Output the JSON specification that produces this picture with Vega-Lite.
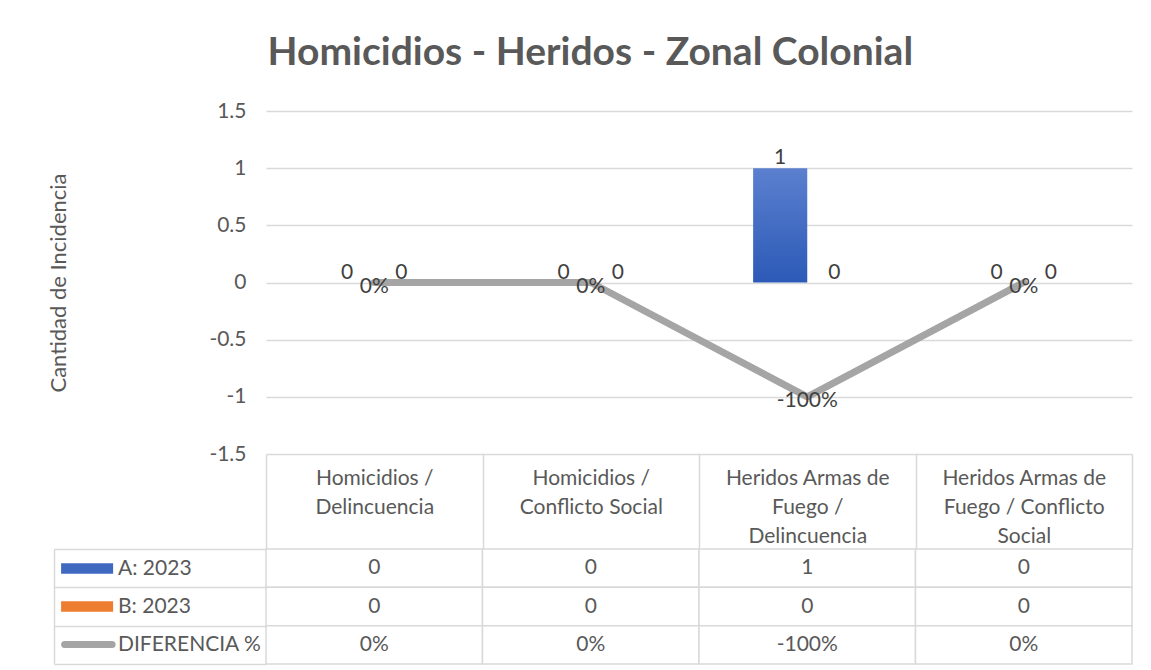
{
  "$schema": "https://vega.github.io/schema/vega-lite/v6.json",
  "padding": {"left": 47, "top": 34, "right": 5, "bottom": 5},
  "background": "white",
  "config": {
    "view": {"stroke": null},
    "font": "Lato",
    "text": {"font": "Lato"}
  },
  "spacing": 95,
  "bounds": "flush",
  "vconcat": [
    {
      "width": 866,
      "height": 343,
      "title": {
        "text": "Homicidios - Heridos - Zonal Colonial",
        "font": "Lato",
        "fontSize": 39,
        "fontWeight": "bold",
        "color": "#595959",
        "anchor": "middle",
        "frame": "bounds",
        "offset": 27
      },
      "layer": [
        {
          "data": {
            "values": [
              {"cat": "Homicidios / Delincuencia", "series": "A: 2023", "value": 0},
              {"cat": "Homicidios / Delincuencia", "series": "B: 2023", "value": 0},
              {"cat": "Homicidios / Conflicto Social", "series": "A: 2023", "value": 0},
              {"cat": "Homicidios / Conflicto Social", "series": "B: 2023", "value": 0},
              {"cat": "Heridos Armas de Fuego / Delincuencia", "series": "A: 2023", "value": 1},
              {"cat": "Heridos Armas de Fuego / Delincuencia", "series": "B: 2023", "value": 0},
              {"cat": "Heridos Armas de Fuego / Conflicto Social", "series": "A: 2023", "value": 0},
              {"cat": "Heridos Armas de Fuego / Conflicto Social", "series": "B: 2023", "value": 0}
            ]
          },
          "layer": [
            {
              "mark": {"type": "bar"},
              "encoding": {
                "x": {
                  "field": "cat", "type": "nominal", "sort": null,
                  "scale": {"paddingInner": 0, "paddingOuter": 0},
                  "axis": {
                    "title": null,
                    "domain": false,
                    "ticks": true,
                    "tickBand": "extent",
                    "tickSize": 95,
                    "tickColor": "#d9d9d9",
                    "tickWidth": 1.5,
                    "labelAngle": 0,
                    "labelFont": "Lato",
                    "labelFontSize": 21,
                    "labelColor": "#595959",
                    "labelBaseline": "middle",
                    "labelPadding": -71,
                    "labelLineHeight": 29,
                    "labelExpr": "datum.value == 'Homicidios / Delincuencia' ? ['Homicidios /', 'Delincuencia'] : datum.value == 'Homicidios / Conflicto Social' ? ['Homicidios /', 'Conflicto Social'] : datum.value == 'Heridos Armas de Fuego / Delincuencia' ? ['Heridos Armas de', 'Fuego /', 'Delincuencia'] : datum.value == 'Heridos Armas de Fuego / Conflicto Social' ? ['Heridos Armas de', 'Fuego / Conflicto', 'Social'] : ''"
                  }
                },
                "xOffset": {
                  "field": "series", "type": "nominal",
                  "scale": {"paddingInner": 0, "paddingOuter": 1.08}
                },
                "y": {
                  "field": "value", "type": "quantitative",
                  "scale": {"domain": [-1.5, 1.5], "nice": false, "zero": false},
                  "axis": {
                    "values": [-1.5, -1, -0.5, 0, 0.5, 1, 1.5],
                    "labelExpr": "toString(datum.value)",
                    "grid": true,
                    "gridColor": "#d9d9d9",
                    "gridWidth": 1.5,
                    "domain": false,
                    "ticks": false,
                    "labelPadding": 20,
                    "labelFont": "Lato",
                    "labelFontSize": 21,
                    "labelColor": "#595959",
                    "title": "Cantidad de Incidencia",
                    "titleFont": "Lato",
                    "titleFontSize": 22,
                    "titleFontWeight": "normal",
                    "titleColor": "#595959",
                    "titlePadding": 138
                  }
                },
                "fill": {
                  "condition": {
                    "test": "datum.series === 'A: 2023'",
                    "value": {"gradient": "linear", "x1": 0, "y1": 0, "x2": 0, "y2": 1, "stops": [{"offset": 0, "color": "#5b80cf"}, {"offset": 1, "color": "#2c5ab7"}]}
                  },
                  "value": {"gradient": "linear", "x1": 0, "y1": 0, "x2": 0, "y2": 1, "stops": [{"offset": 0, "color": "#f39252"}, {"offset": 1, "color": "#e36d1e"}]}
                }
              }
            },
            {
              "mark": {"type": "text", "fontSize": 21, "color": "#404040", "baseline": "alphabetic", "dy": -4, "font": "Lato"},
              "encoding": {
                "x": {"field": "cat", "type": "nominal", "sort": null},
                "xOffset": {"field": "series", "type": "nominal"},
                "y": {"field": "value", "type": "quantitative"},
                "text": {"field": "value", "type": "quantitative"}
              }
            }
          ]
        },
        {
          "data": {
            "values": [
              {"cat": "Homicidios / Delincuencia", "dif": 0, "label": "0%"},
              {"cat": "Homicidios / Conflicto Social", "dif": 0, "label": "0%"},
              {"cat": "Heridos Armas de Fuego / Delincuencia", "dif": -1, "label": "-100%"},
              {"cat": "Heridos Armas de Fuego / Conflicto Social", "dif": 0, "label": "0%"}
            ]
          },
          "layer": [
            {
              "mark": {"type": "line", "strokeWidth": 7, "strokeCap": "round", "strokeJoin": "round"},
              "encoding": {
                "x": {"field": "cat", "type": "nominal", "sort": null},
                "y": {"field": "dif", "type": "quantitative"},
                "color": {
                  "datum": "DIFERENCIA %",
                  "scale": {
                    "domain": ["A: 2023", "B: 2023", "DIFERENCIA %"],
                    "range": ["#3f69c1", "#ed7d31", "#a5a5a5"]
                  },
                  "legend": {
                    "orient": "none",
                    "legendX": -205,
                    "legendY": 438.5,
                    "padding": 0,
                    "title": null,
                    "direction": "vertical",
                    "symbolType": "M-1,-0.5H4V0.5H-1Z",
                    "symbolSize": 433,
                    "rowPadding": 0,
                    "clipHeight": 38,
                    "labelOffset": 36,
                    "labelFont": "Lato",
                    "labelFontSize": 21,
                    "labelColor": "#595959",
                    "encode": {
                      "symbols": {
                        "update": {
                          "shape": {"signal": "datum.value === 'DIFERENCIA %' ? 'M-0.66,0H3.9' : 'M-1,-0.5H4V0.5H-1Z'"},
                          "fill": {"signal": "datum.value === 'DIFERENCIA %' ? 'transparent' : datum.value === 'A: 2023' ? '#3f69c1' : '#ed7d31'"},
                          "stroke": {"signal": "datum.value === 'DIFERENCIA %' ? '#a5a5a5' : 'transparent'"},
                          "strokeWidth": {"signal": "datum.value === 'DIFERENCIA %' ? 7 : 0"},
                          "strokeCap": {"value": "round"},
                          "opacity": {"value": 1}
                        }
                      }
                    }
                  }
                }
              }
            },
            {
              "mark": {"type": "text", "fontSize": 21, "color": "#404040", "baseline": "middle", "dy": 4, "font": "Lato"},
              "encoding": {
                "x": {"field": "cat", "type": "nominal", "sort": null},
                "y": {"field": "dif", "type": "quantitative"},
                "text": {"field": "label", "type": "nominal"}
              }
            }
          ]
        }
      ]
    },
    {
      "width": 866,
      "height": 115,
      "data": {
        "values": [
          {"cat": "Homicidios / Delincuencia", "row": "A: 2023", "text": "0"},
          {"cat": "Homicidios / Conflicto Social", "row": "A: 2023", "text": "0"},
          {"cat": "Heridos Armas de Fuego / Delincuencia", "row": "A: 2023", "text": "1"},
          {"cat": "Heridos Armas de Fuego / Conflicto Social", "row": "A: 2023", "text": "0"},
          {"cat": "Homicidios / Delincuencia", "row": "B: 2023", "text": "0"},
          {"cat": "Homicidios / Conflicto Social", "row": "B: 2023", "text": "0"},
          {"cat": "Heridos Armas de Fuego / Delincuencia", "row": "B: 2023", "text": "0"},
          {"cat": "Heridos Armas de Fuego / Conflicto Social", "row": "B: 2023", "text": "0"},
          {"cat": "Homicidios / Delincuencia", "row": "DIFERENCIA %", "text": "0%"},
          {"cat": "Homicidios / Conflicto Social", "row": "DIFERENCIA %", "text": "0%"},
          {"cat": "Heridos Armas de Fuego / Delincuencia", "row": "DIFERENCIA %", "text": "-100%"},
          {"cat": "Heridos Armas de Fuego / Conflicto Social", "row": "DIFERENCIA %", "text": "0%"}
        ]
      },
      "encoding": {
        "x": {"field": "cat", "type": "nominal", "sort": null, "scale": {"paddingInner": 0, "paddingOuter": 0}, "axis": null},
        "y": {
          "field": "row", "type": "nominal", "sort": null,
          "scale": {"paddingInner": 0, "paddingOuter": 0},
          "axis": {
            "title": null,
            "labels": false,
            "domain": true,
            "domainColor": "#d9d9d9",
            "domainWidth": 1.5,
            "offset": 212,
            "ticks": true,
            "tickBand": "extent",
            "tickSize": -212,
            "tickColor": "#d9d9d9",
            "tickWidth": 1.5
          }
        }
      },
      "layer": [
        {"mark": {"type": "rect", "fill": "white", "stroke": "#d9d9d9", "strokeWidth": 1.5}},
        {
          "mark": {"type": "text", "fontSize": 21, "color": "#595959", "font": "Lato"},
          "encoding": {"text": {"field": "text", "type": "nominal"}}
        }
      ]
    }
  ]
}
